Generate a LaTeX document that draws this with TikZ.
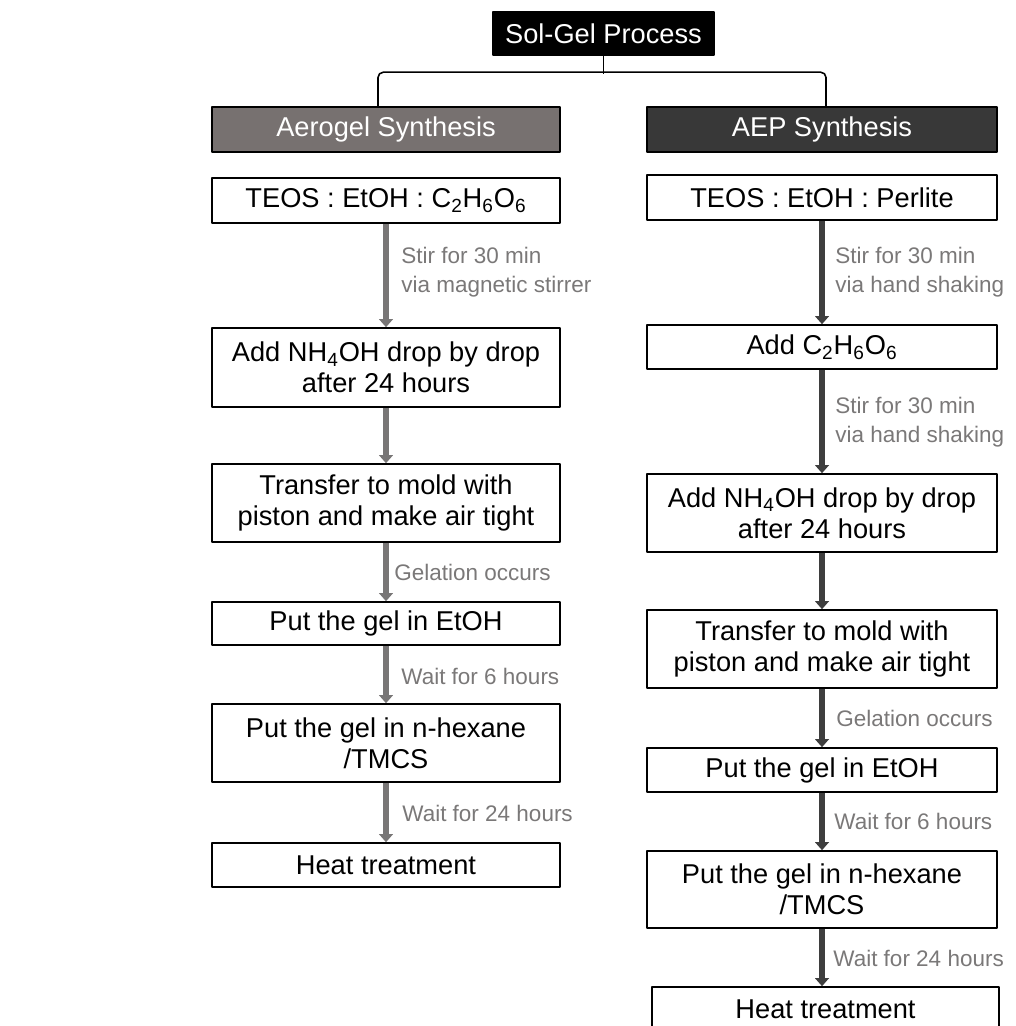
\documentclass[tikz,border=0pt]{standalone}
\usepackage{fontspec}
\setmainfont{Liberation Sans}
\usetikzlibrary{arrows.meta,positioning}
\definecolor{arrL}{HTML}{787676}
\definecolor{arrR}{HTML}{3E3E3E}
\definecolor{noteGrey}{HTML}{7A7878}
\definecolor{headL}{HTML}{777170}
\definecolor{headR}{HTML}{383838}

\begin{document}
\begin{tikzpicture}[x=0.02cm, y=-0.02cm, line join=round, font=\fontsize{15.5}{17.6}\selectfont]
	\tikzset{
		stepbox/.style={draw=black, line width=0.9pt, fill=white, align=center, inner sep=0pt, minimum width=6.96cm},
		headbox/.style={stepbox, text=white, minimum height=0.9cm},
		note/.style={text=noteGrey, font=\fontsize{12.8}{16.4}\selectfont, align=left, inner sep=0pt, anchor=west},
		flowL/.style={line width=3.2pt, draw=arrL, -{Triangle[width=0.27cm, length=0.16cm, fill=arrL]}},
		flowR/.style={line width=3.2pt, draw=arrR, -{Triangle[width=0.27cm, length=0.16cm, fill=arrR]}}
	}
	\clip (0,0) rectangle (1015,1026);
	
	% TITLE AND HEADERS
	\node[stepbox, fill=black, text=white, minimum width=4.42cm, minimum height=0.86cm] (title) at (603.5,33.5) {Sol-Gel Process};
	\node[headbox, fill=headL] (hL) at (386,129.5) {Aerogel Synthesis};
	\node[headbox, fill=headR, minimum width=7cm] (hR) at (822,129.5) {AEP Synthesis};
	\draw[line width=0.9pt] (title.south) -- ++(0,18);
	\draw[line width=0.9pt, rounded corners=3pt] ([xshift=-0.16cm]hL.north) -- ++(0,-34) -| ([xshift=0.08cm]hR.north);
	
	% LEFT COLUMN: AEROGEL
	\node[stepbox, minimum height=0.9cm] (L1) at (386,200.5) {TEOS : EtOH : C\textsubscript{2}H\textsubscript{6}O\textsubscript{6}};
	\node[stepbox, minimum height=1.58cm] (L2) at (386,367.5) {Add NH\textsubscript{4}OH drop by drop\\after 24 hours};
	\node[stepbox, minimum height=1.56cm] (L3) at (386,503) {Transfer to mold with\\piston and make air tight};
	\node[stepbox, minimum height=0.86cm] (L4) at (386,623.5) {Put the gel in EtOH};
	\node[stepbox, minimum height=1.56cm] (L5) at (386,743) {Put the gel in n-hexane\\/TMCS};
	\node[stepbox, minimum height=0.88cm] (L6) at (386,865) {Heat treatment};
	\foreach \a/\b in {L1/L2, L2/L3, L3/L4, L4/L5, L5/L6}
		\draw[flowL] (\a.south) -- (\b.north);
	\node[note] (nL1) at (401,272) {Stir for 30 min\\via magnetic stirrer};
	\node[note] (nL3) at (394,572) {Gelation occurs};
	\node[note] (nL4) at (401,676) {Wait for 6 hours};
	\node[note] (nL5) at (402,813) {Wait for 24 hours};
	
	% RIGHT COLUMN: AEP
	\node[stepbox, minimum width=7cm, minimum height=0.9cm] (R1) at (822,197.5) {TEOS : EtOH : Perlite};
	\node[stepbox, minimum width=7cm, minimum height=0.88cm] (R2) at (822,347) {Add C\textsubscript{2}H\textsubscript{6}O\textsubscript{6}};
	\node[stepbox, minimum width=7cm, minimum height=1.56cm] (R3) at (822,513) {Add NH\textsubscript{4}OH drop by drop\\after 24 hours};
	\node[stepbox, minimum width=7cm, minimum height=1.56cm] (R4) at (822,649) {Transfer to mold with\\piston and make air tight};
	\node[stepbox, minimum width=7cm, minimum height=0.88cm] (R5) at (822,770) {Put the gel in EtOH};
	\node[stepbox, minimum width=7cm, minimum height=1.54cm] (R6) at (822,889.5) {Put the gel in n-hexane\\/TMCS};
	\node[stepbox, minimum width=6.94cm, minimum height=0.9cm] (R7) at (825.5,1009.5) {Heat treatment};
	\foreach \a/\b in {R1/R2, R2/R3, R3/R4, R4/R5, R5/R6}
		\draw[flowR] (\a.south) -- (\b.north);
	\draw[flowR] (R6.south) -- (R6.south |- R7.north);
	\node[note] (nR1) at (835,272) {Stir for 30 min\\via hand shaking};
	\node[note] (nR2) at (835,422) {Stir for 30 min\\via hand shaking};
	\node[note] (nR4) at (836,718) {Gelation occurs};
	\node[note] (nR5) at (834,821) {Wait for 6 hours};
	\node[note] (nR6) at (833,958) {Wait for 24 hours};
\end{tikzpicture}
\end{document}
